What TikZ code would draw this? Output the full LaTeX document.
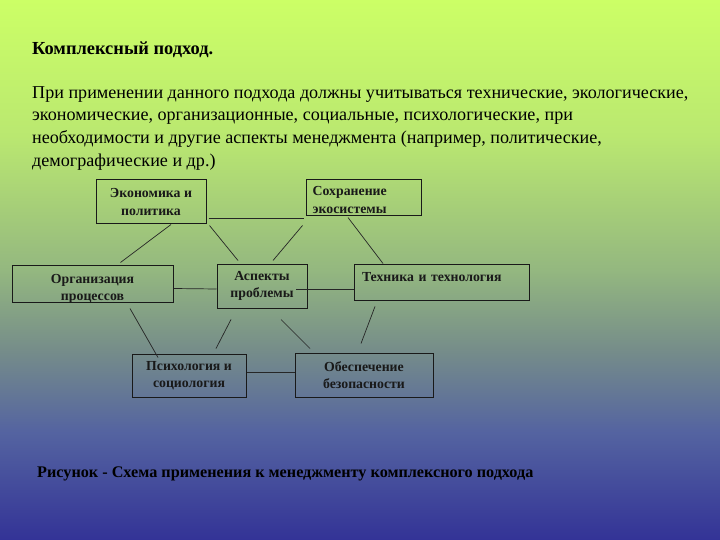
\documentclass[tikz,border=0pt]{standalone}
\usepackage{fontspec}
\setmainfont{Liberation Serif}
\usetikzlibrary{calc}
\pgfdeclareverticalshading{slidebg}{100bp}{rgb(0bp)=(0.20,0.20,0.59); rgb(25bp)=(0.20,0.20,0.59);
  rgb(35bp)=(0.33,0.39,0.63); rgb(42.5bp)=(0.46,0.55,0.54); rgb(50bp)=(0.58,0.72,0.50);
  rgb(62.5bp)=(0.73,0.91,0.44); rgb(75bp)=(0.80,1.00,0.40); rgb(100bp)=(0.80,1.00,0.40)}

\begin{document}
\begin{tikzpicture}[
  x=1pt, y=-1pt,
  font=\fontsize{13.8}{17}\selectfont\bfseries,
  bx/.style={draw=black!90, line width=1pt, inner sep=3pt, align=center, text=black!90},
  lb/.style={inner sep=0pt, text=black!90},
  ln/.style={draw=black!85, line width=0.7pt}
]
\shade[shading=slidebg] (0,0) rectangle (720,540);
\useasboundingbox (0,0) rectangle (720,540);

\node[anchor=west, inner sep=0pt, font=\fontsize{18.4}{21}\selectfont\bfseries] (ttl) at (32,50) {Комплексный подход.};
\node[anchor=north west, inner sep=0pt, align=left, font=\fontsize{18.1}{22.7}\selectfont] (txt) at (32,86)
  {При применении данного подхода должны учитываться технические, экологические,\\
   экономические, организационные, социальные, психологические, при\\
   необходимости и другие аспекты менеджмента (например, политические,\\
   демографические и др.)};

% boxes
\node[bx, minimum width=110, minimum height=44, font=\fontsize{13.8}{18}\selectfont\bfseries] (eco) at (151,202) {Экономика и\\политика};
\node[bx, minimum width=115, minimum height=36] (eks) at (363.5,198) {};
\node[lb, anchor=west, align=left, font=\fontsize{13.8}{17.5}\selectfont\bfseries] (eks-t) at ($(eks.west)+(7,2)$) {Сохранение\\экосистемы};
\node[bx, minimum width=161, minimum height=37] (org) at (92.5,283.5) {};
\node[lb, align=center] (org-t) at ($(org.center)+(0,5)$) {Организация\\процессов};
\node[bx, minimum width=90, minimum height=44] (asp) at (262,286) {Аспекты\\проблемы};
\node[bx, minimum width=175, minimum height=36, text width=159, align=left, text depth=11pt] (teh) at (441.5,282) {Техника и технология};
\node[bx, minimum width=114, minimum height=43] (psy) at (189,375.5) {Психология и\\социология};
\node[bx, minimum width=138, minimum height=44] (bez) at (364,375) {Обеспечение\\безопасности};

% links
\draw[ln] ($(eco.east)+(2,16)$) -- ($(eks.west)+(-2,20)$);
\draw[ln] ($(eco.south)+(20,0)$) -- ($(org.north)+(28,-2)$);
\draw[ln] ($(eco.south east)+(3,1)$) -- ($(asp.north)+(-24,-3)$);
\draw[ln] ($(eks.south west)+(-3,9)$) -- ($(asp.north)+(11,-3)$);
\draw[ln] ($(eks.south)+(-15.5,1)$) -- ($(teh.north)+(-58.5,0)$);
\draw[ln] ($(org.east)+(0,5)$) -- ($(asp.west)+(0,3)$);
\draw[ln] ($(asp.center)+(34,3)$) -- ($(teh.west)+(0,7)$);
\draw[ln] ($(org.south)+(37.5,6)$) -- ($(psy.north)+(-31,4)$);
\draw[ln] ($(asp.south)+(-31,11)$) -- ($(psy.north)+(27,-5)$);
\draw[ln] ($(asp.south)+(19,11)$) -- ($(bez.north)+(-54,-4)$);
\draw[ln] ($(psy.east)+(0,-3.5)$) -- ($(bez.west)+(0,-3)$);
\draw[ln] ($(teh.south)+(-66.5,6)$) -- ($(bez.north)+(-3,-9)$);

\node[anchor=west, inner sep=0pt, font=\fontsize{16.2}{19}\selectfont\bfseries] (cap) at (37,474)
  {Рисунок - Схема применения к менеджменту комплексного подхода};
\end{tikzpicture}
\end{document}
